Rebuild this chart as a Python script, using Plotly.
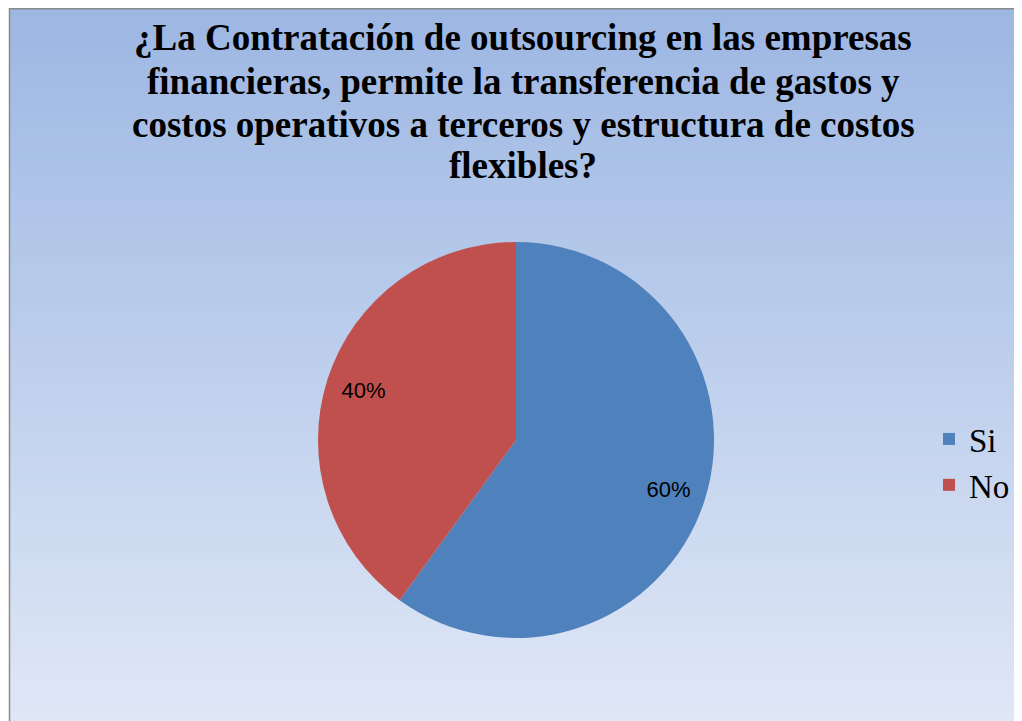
import plotly.graph_objects as go

labels = ["Si", "No"]
values = [60, 40]
colors = ["#4F81BD", "#C0504D"]
title_lines = [
    "¿La Contratación de outsourcing en las empresas",
    "financieras, permite la transferencia de gastos y",
    "costos operativos a terceros y estructura de costos",
    "flexibles?",
]

# page offset: the browser body has an 8px margin
OFF = 8
W, H = 1022 - OFF, 721 - OFF


def px(x):
    return (x - OFF) / W


def py(y):
    return 1 - (y - OFF) / H


CX, CY, R = 516, 440, 198
dom = dict(x=[px(CX - R), px(CX + R)], y=[py(CY + R), py(CY - R)])

fig = go.Figure()
fig.add_trace(go.Pie(
    labels=labels, values=values, sort=False, direction="clockwise", rotation=0,
    marker=dict(colors=colors, line=dict(width=0)),
    textinfo="none", domain=dom, hoverinfo="label+percent",
))
# same data, transparent ring that carries the percentage labels at ~0.8 R
fig.add_trace(go.Pie(
    labels=labels, values=values, sort=False, direction="clockwise", rotation=0,
    hole=0.62, showlegend=False, hoverinfo="skip",
    marker=dict(colors=["rgba(0,0,0,0)"] * len(values), line=dict(width=0)),
    textinfo="percent", textposition="inside", insidetextorientation="horizontal",
    textfont=dict(family="Liberation Sans, Arial, sans-serif", size=22, color="black"),
    domain=dom,
))

# gradient background (vertical), inside a gray border
shapes = []
top = (157, 183, 227)
bot = (223, 231, 246)
n = 80
for i in range(n):
    t = i / (n - 1)
    c = tuple(round(top[k] + (bot[k] - top[k]) * t) for k in range(3))
    ya = i / n
    yb = (i + 1) / n + 0.002
    shapes.append(dict(type="rect", xref="paper", yref="paper", layer="below",
                       x0=px(10), x1=1.01, y0=1 - yb, y1=1 - ya,
                       fillcolor="rgb(%d,%d,%d)" % c, line=dict(width=0)))
shapes.append(dict(type="rect", xref="paper", yref="paper", layer="below",
                   x0=px(9.5), x1=1.01, y0=-0.01, y1=1 - 0.7 / H,
                   fillcolor="rgba(0,0,0,0)", line=dict(color="#8a8a8a", width=1.5)))

title_y = [38, 81, 124, 166]
annotations = []
for line, yy in zip(title_lines, title_y):
    annotations.append(dict(
        text="<b>" + line + "</b>", xref="paper", yref="paper",
        x=px(523), y=py(yy), xanchor="center", yanchor="middle", showarrow=False,
        font=dict(family="Liberation Serif, Times New Roman, serif", size=37, color="black"),
    ))

fig.update_layout(
    width=W, height=H,
    margin=dict(l=0, r=0, t=0, b=0),
    paper_bgcolor="white",
    shapes=shapes,
    annotations=annotations,
    legend=dict(x=px(929), xanchor="left", y=py(462), yanchor="middle",
                font=dict(family="Liberation Serif, Times New Roman, serif", size=33, color="black"),
                bgcolor="rgba(0,0,0,0)"),
    showlegend=True,
)

fig.write_html("out.html")
